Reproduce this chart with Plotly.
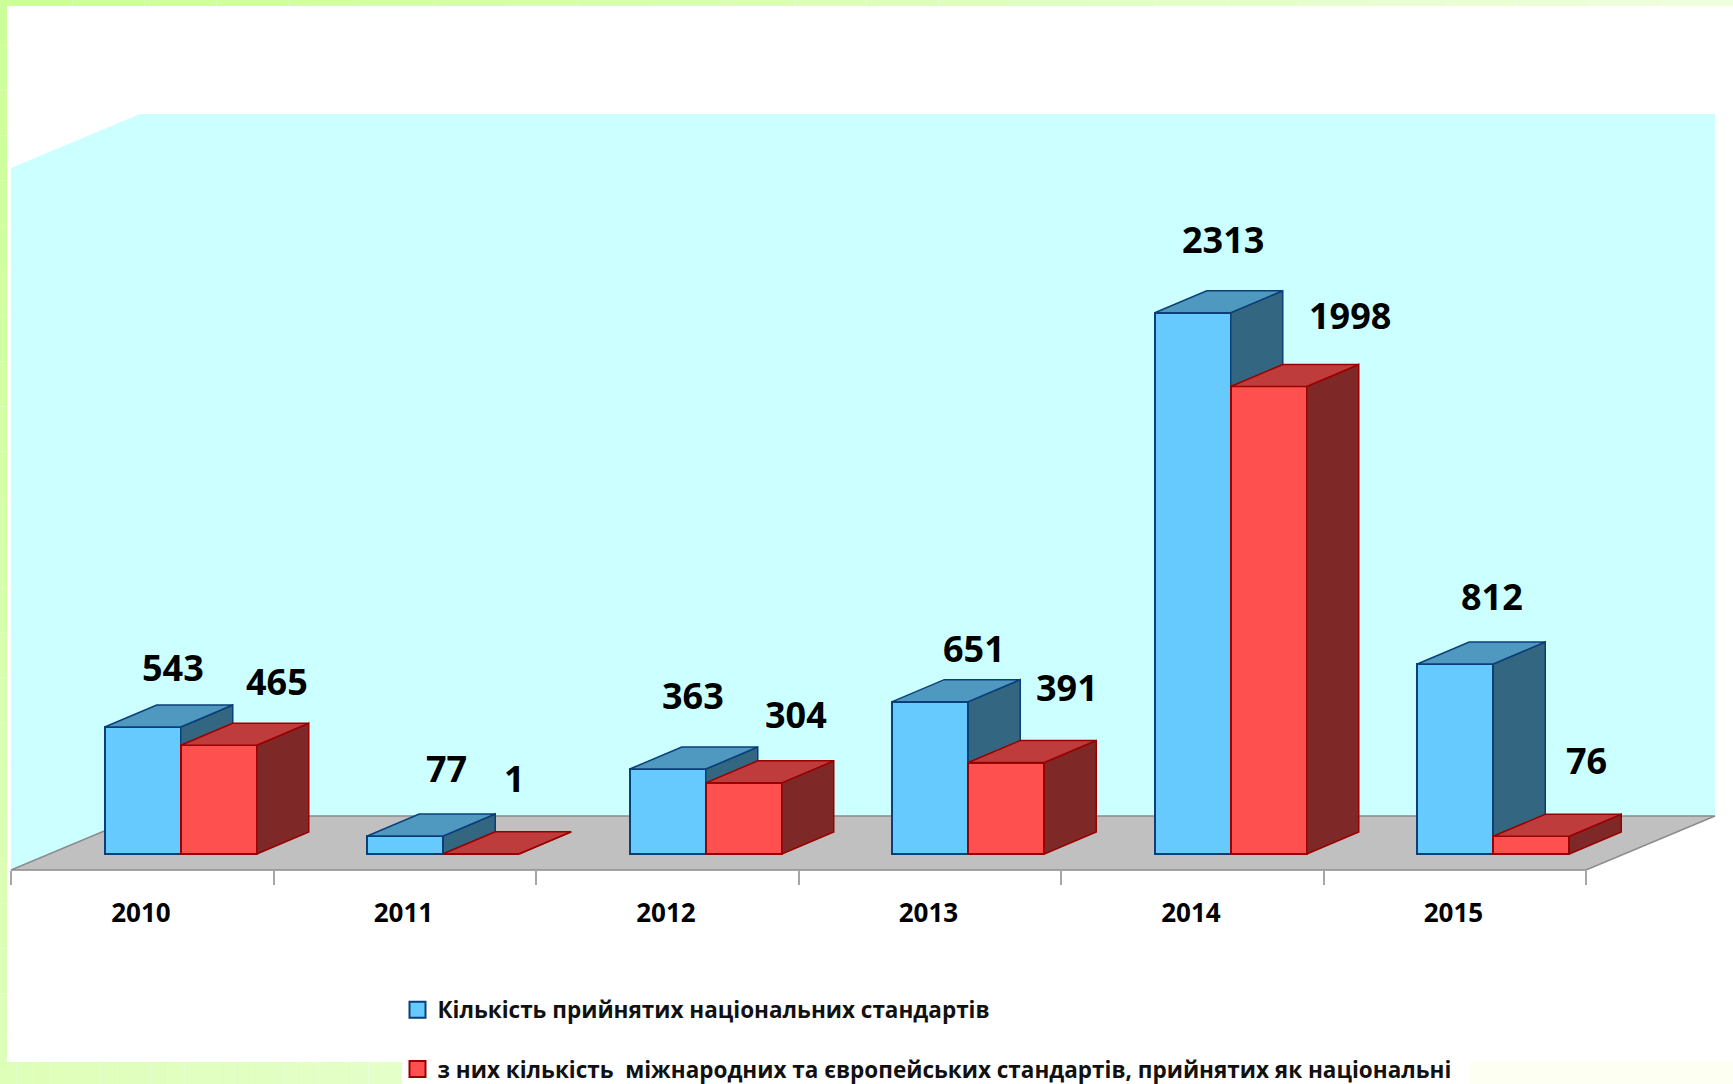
import plotly.graph_objects as go

W, H = 1733, 1084
years = ["2010", "2011", "2012", "2013", "2014", "2015"]
adopted = [543, 77, 363, 651, 2313, 812]
international = [465, 1, 304, 391, 1998, 76]
name_adopted = "Кількість прийнятих національних стандартів"
name_international = "з них кількість  міжнародних та європейських стандартів, прийнятих як національні"

# manually placed value labels: offset in px from the top-centre of each bar
shift_adopted = [(30, 59), (41, 67), (25, 74), (44, 53), (30, 73), (37, 67)]
shift_international = [(58, 64), (33, 75), (52, 68), (61, 75), (81, 71), (55, 76)]

# pixel geometry of the chart frame
CAT_W, X0, BASE_Y, PX_PER_UNIT = 262.5, 11, 854, 0.234
FRONT_Y, BACK_Y, TOP_Y, BACK_DX, BACK_DY = 870, 816, 114, 129, 54
SIDE_DX, SIDE_DY = 52, 22
BAR_W = 76 / CAT_W
SHIFT = 38.5 / CAT_W

ux = lambda px: (px - X0) / CAT_W
vy = lambda py: (BASE_Y - py) / PX_PER_UNIT
dxu, dyv = SIDE_DX / CAT_W, SIDE_DY / PX_PER_UNIT

BLUE = dict(front="#66CAFF", top="#4F98BF", side="#336680", line="#0B3F78")
RED = dict(front="#FF5050", top="#BF3C3C", side="#7F2828", line="#990000")

fig = go.Figure()


def add_series(values, name, col, xa, ya, offset, shifts):
    xs = [i + 0.5 + SHIFT + offset * BAR_W for i in range(len(values))]
    fig.add_trace(go.Bar(x=xs, y=values, width=BAR_W, name=name, showlegend=False,
                         marker=dict(color=col["front"], line=dict(color=col["line"], width=2)),
                         xaxis=xa, yaxis=ya))
    for x, v in zip(xs, values):
        r = x + BAR_W / 2
        l = x - BAR_W / 2
        fig.add_trace(go.Scatter(x=[r, r + dxu, r + dxu, r, r], y=[0, dyv, v + dyv, v, 0],
                                 mode="lines", fill="toself", fillcolor=col["side"],
                                 line=dict(color=col["line"], width=1.5), showlegend=False,
                                 hoverinfo="skip", xaxis=xa, yaxis=ya))
        fig.add_trace(go.Scatter(x=[l, r, r + dxu, l + dxu, l], y=[v, v, v + dyv, v + dyv, v],
                                 mode="lines", fill="toself", fillcolor=col["top"],
                                 line=dict(color=col["line"], width=1.5), showlegend=False,
                                 hoverinfo="skip", xaxis=xa, yaxis=ya))
    fig.add_trace(go.Scatter(x=[None], y=[None], mode="markers", name=name,
                             legendgroup=name,
                             marker=dict(symbol="square", size=16, color=col["front"],
                                         line=dict(color=col["line"], width=2)),
                             xaxis=xa, yaxis=ya))
    for x, v, (sx, sy) in zip(xs, values, shifts):
        fig.add_annotation(x=x, y=v, xref=xa, yref=ya, text=str(v), showarrow=False,
                           xshift=sx, yshift=sy,
                           font=dict(family="Open Sans", size=36, color="black", weight="bold"))


add_series(adopted, name_adopted, BLUE, "x", "y", -0.5, shift_adopted)
add_series(international, name_international, RED, "x2", "y2", 0.5, shift_international)

n = len(years)
x_right = ux(X0 + n * CAT_W)


def mix(a, b, t):
    return "#" + "".join(f"{round(a[i] + (b[i] - a[i]) * t):02X}" for i in range(3))


def frame_rect(x0, x1, y0, y1, color):
    return dict(type="rect", xref="paper", yref="paper", x0=x0 / W, x1=x1 / W,
                y0=1 - y1 / H, y1=1 - y0 / H, fillcolor=color, line_width=0, layer="below")


SEG = 24
shapes = []
# page frame with its soft gradient
for k in range(SEG):
    shapes.append(frame_rect(W * k / SEG, W * (k + 1) / SEG, 0, 6,
                             mix((204, 255, 153), (238, 255, 221), k / (SEG - 1))))
    shapes.append(frame_rect(0, 7, H * k / SEG, H * (k + 1) / SEG,
                             mix((204, 255, 153), (222, 255, 186), k / (SEG - 1))))
    shapes.append(frame_rect(402 * k / SEG, 402 * (k + 1) / SEG, 1062, H,
                             mix((222, 255, 184), (228, 255, 200), k / (SEG - 1))))
shapes.append(frame_rect(1469, W, 1062, H, "#FCFFF2"))
shapes += [
    # wall
    dict(type="path", xref="x", yref="y", layer="below", fillcolor="#CCFFFF", line_width=0,
         path=(f"M{ux(X0)},{vy(168)} L{ux(X0 + BACK_DX)},{vy(TOP_Y)} "
               f"L{ux(X0 + n * CAT_W + BACK_DX)},{vy(TOP_Y)} L{ux(X0 + n * CAT_W + BACK_DX)},{vy(BACK_Y)} "
               f"L{ux(X0 + BACK_DX)},{vy(BACK_Y)} L{ux(X0)},{vy(FRONT_Y)} Z")),
    # floor
    dict(type="path", xref="x", yref="y", layer="below", fillcolor="#C0C0C0",
         line=dict(color="#8C8C8C", width=1.5),
         path=(f"M{ux(X0)},{vy(FRONT_Y)} L{ux(X0 + BACK_DX)},{vy(BACK_Y)} "
               f"L{ux(X0 + n * CAT_W + BACK_DX)},{vy(BACK_Y)} L{x_right},{vy(FRONT_Y)} Z")),
]

x_range = [ux(0), ux(W)]
y_range = [vy(H), vy(0)]
fig.update_layout(
    width=W, height=H, autosize=False,
    margin=dict(l=0, r=0, t=0, b=0, pad=0, autoexpand=False),
    paper_bgcolor="white", plot_bgcolor="rgba(0,0,0,0)", barmode="overlay", bargap=0,
    shapes=shapes,
    xaxis=dict(range=x_range, domain=[0, 1], anchor="free", position=(H - FRONT_Y) / H,
               tickmode="array", tickvals=[i + 0.495 for i in range(n)], ticktext=years,
               ticks="", showgrid=False, zeroline=False, showline=False,
               tickfont=dict(family="Open Sans", size=26, color="black", weight="bold"),
               ticklabelstandoff=25,
               minor=dict(tickmode="array", tickvals=list(range(n + 1)), ticks="outside",
                          ticklen=14, tickcolor="#A6A6A6", tickwidth=1.5, showgrid=False)),
    yaxis=dict(range=y_range, domain=[0, 1], visible=False),
    xaxis2=dict(range=x_range, overlaying="x", visible=False),
    yaxis2=dict(range=y_range, overlaying="y", visible=False),
    legend=dict(x=397.5 / W, y=1 - 988.5 / H, xanchor="left", yanchor="top", orientation="v",
                tracegroupgap=27, bgcolor="rgba(0,0,0,0)", borderwidth=0,
                font=dict(family="Open Sans", size=22.5, color="#111111", weight="bold")),
)

fig.write_html("out.html", config={"displayModeBar": False},
               post_script="document.body.style.margin='0';")
